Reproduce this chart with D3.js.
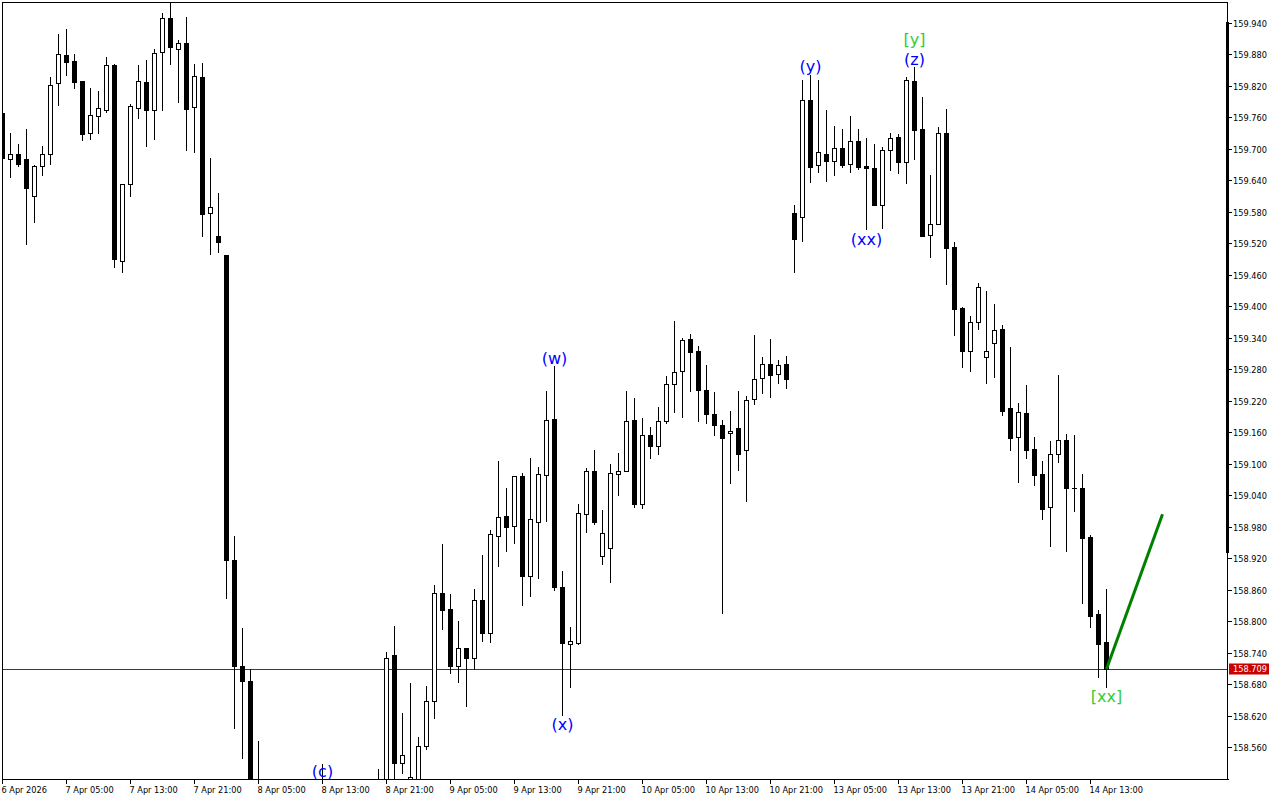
<!DOCTYPE html>
<html>
<head>
<meta charset="utf-8">
<script src="https://cdn.jsdelivr.net/npm/d3@7/dist/d3.min.js"></script>
<style>
  html, body { margin: 0; padding: 0; background: #ffffff; }
  svg { display: block; }
  text { font-family: "DejaVu Sans", sans-serif; }
</style>
</head>
<body>
<svg id="chart" width="1280" height="800"></svg>
<script>
// ---------------- DATA (hourly bars, USD/JPY-like) ----------------
const open = [
159.768,159.680,159.690,159.680,159.611,159.667,159.690,159.825,159.878,159.867,
159.829,159.730,159.763,159.773,159.859,159.486,159.632,159.777,159.827,159.773,
159.884,159.950,159.891,159.901,159.779,159.836,159.577,159.533,159.498,158.917,
158.715,158.687,158.420,158.390,158.360,158.380,158.420,158.400,158.440,158.410,
158.380,158.450,158.400,158.430,158.410,158.440,158.420,158.450,158.470,158.735,
158.530,158.498,158.490,158.562,158.648,158.853,158.823,158.714,158.750,158.731,
158.840,158.778,158.963,159.001,158.982,159.076,158.887,158.990,159.078,159.185,
158.866,158.757,158.758,159.004,159.086,158.925,158.940,159.081,159.086,159.183,
159.023,159.154,159.134,159.181,159.252,159.276,159.337,159.314,159.240,159.194,
159.173,159.158,159.168,159.126,159.223,159.263,159.291,159.271,159.290,159.577,
159.571,159.792,159.669,159.691,159.676,159.701,159.671,159.714,159.667,159.663,
159.592,159.697,159.722,159.674,159.830,159.738,159.535,159.556,159.731,159.512,
159.396,159.315,159.370,159.303,159.331,159.356,159.206,159.152,159.196,159.128,
159.080,159.017,159.118,159.145,159.054,159.053,158.960,158.813,158.760
];
const high = [
159.774,159.730,159.709,159.738,159.670,159.705,159.836,159.919,159.928,159.881,
159.829,159.815,159.810,159.874,159.861,159.632,159.785,159.860,159.870,159.890,
159.958,159.980,159.907,159.951,159.861,159.863,159.682,159.615,159.498,158.963,
158.787,158.709,158.572,158.450,158.420,158.440,158.470,158.460,158.480,158.470,
158.529,158.490,158.460,158.480,158.470,158.490,158.480,158.519,158.742,158.791,
158.625,158.683,158.580,158.677,158.869,158.947,158.852,158.801,158.750,158.862,
158.926,158.974,159.105,159.054,159.076,159.082,159.111,159.094,159.239,159.287,
158.896,158.789,159.024,159.092,159.126,159.012,159.100,159.120,159.239,159.225,
159.187,159.170,159.208,159.267,159.372,159.339,159.347,159.324,159.288,159.236,
159.183,159.200,159.239,159.230,159.345,159.303,159.337,159.297,159.305,159.592,
159.831,159.841,159.832,159.774,159.743,159.738,159.762,159.738,159.721,159.709,
159.703,159.730,159.728,159.836,159.855,159.798,159.651,159.741,159.776,159.523,
159.398,159.381,159.444,159.430,159.404,159.364,159.322,159.216,159.250,159.152,
159.105,159.143,159.270,159.156,159.154,159.080,158.964,158.821,158.861
];
const low = [
159.669,159.647,159.668,159.519,159.561,159.651,159.672,159.784,159.841,159.816,
159.717,159.719,159.731,159.770,159.474,159.465,159.611,159.759,159.706,159.719,
159.773,159.862,159.790,159.698,159.693,159.534,159.500,159.503,158.844,158.597,
158.539,158.400,158.360,158.330,158.300,158.340,158.370,158.350,158.390,158.360,
158.320,158.380,158.350,158.380,158.360,158.400,158.380,158.410,158.450,158.470,
158.512,158.470,158.470,158.556,158.615,158.786,158.701,158.685,158.639,158.710,
158.762,158.761,158.906,158.933,158.950,158.832,158.849,158.883,158.991,158.860,
158.622,158.674,158.757,158.970,158.986,158.910,158.874,159.041,159.086,159.018,
159.016,159.112,159.119,159.177,159.199,159.190,159.239,159.182,159.177,159.155,
158.815,159.064,159.089,159.030,159.213,159.235,159.228,159.253,159.245,159.466,
159.525,159.637,159.656,159.639,159.651,159.665,159.656,159.661,159.547,159.592,
159.550,159.660,159.654,159.635,159.681,159.533,159.494,159.556,159.442,159.346,
159.285,159.277,159.357,159.253,159.266,159.192,159.127,159.066,159.112,159.060,
158.995,158.944,159.103,158.933,159.011,158.835,158.790,158.694,158.674
];
const close = [
159.682,159.690,159.672,159.625,159.667,159.690,159.821,159.880,159.866,159.828,
159.729,159.764,159.777,159.859,159.490,159.632,159.781,159.829,159.773,159.882,
159.950,159.893,159.901,159.776,159.838,159.576,159.589,159.523,158.917,158.714,
158.686,158.420,158.390,158.360,158.380,158.420,158.400,158.440,158.410,158.380,
158.450,158.400,158.430,158.410,158.440,158.420,158.450,158.470,158.730,158.530,
158.545,158.504,158.562,158.648,158.853,158.822,158.714,158.750,158.730,158.840,
158.778,158.966,158.998,158.980,159.076,158.887,158.994,159.080,159.183,158.866,
158.758,158.762,159.006,159.086,158.990,158.968,159.082,159.086,159.181,159.024,
159.154,159.134,159.181,159.252,159.274,159.335,159.312,159.240,159.194,159.173,
159.150,159.162,159.119,159.221,159.262,159.291,159.270,159.288,159.262,159.529,
159.792,159.665,159.693,159.676,159.701,159.670,159.714,159.666,159.663,159.593,
159.697,159.720,159.675,159.832,159.736,159.533,159.556,159.731,159.511,159.395,
159.315,159.371,159.436,159.314,159.354,159.201,159.150,159.198,159.127,159.079,
159.014,159.118,159.145,159.054,159.053,158.959,158.811,158.757,158.709
];

// time-axis labels (bar index, text)
const xTickBars = [0, 8, 16, 24, 32, 40, 48, 56, 64, 72, 80, 88, 96, 104, 112, 120, 128, 136];
const xTickLabels = ["6 Apr 2026","7 Apr 05:00","7 Apr 13:00","7 Apr 21:00","8 Apr 05:00","8 Apr 13:00",
  "8 Apr 21:00","9 Apr 05:00","9 Apr 13:00","9 Apr 21:00","10 Apr 05:00","10 Apr 13:00",
  "10 Apr 21:00","13 Apr 05:00","13 Apr 13:00","13 Apr 21:00","14 Apr 05:00","14 Apr 13:00"];

// price-axis labels
const yTickValues = [159.940,159.880,159.820,159.760,159.700,159.640,159.580,159.520,159.460,159.400,
  159.340,159.280,159.220,159.160,159.100,159.040,158.980,158.920,158.860,158.800,158.740,158.680,
  158.620,158.560];

// wave labels
const waveTexts  = ["(w)", "(x)", "(y)", "(xx)", "(z)", "[y]", "[xx]", "(c)"];
const waveBars   = [69, 70, 101, 108, 114, 114, 138, 40];
const wavePrices = [159.3015, 158.604, 159.856, 159.528, 159.871, 159.909, 158.656, 158.513];
const waveKinds  = ["minor", "minor", "minor", "minor", "minor", "major", "major", "minor"];

// current price and projection line
const currentPrice = 158.709;
const projBars   = [138, 145];
const projPrices = [158.709, 159.004];

// range bar on price axis
const axisBarPrices = [159.940, 158.931];

// ---------------- DRAWING ----------------
const W = 1280, H = 800;
const plotLeft = 2, plotTop = 2, plotRight = 1227, plotBottom = 779;

const x = d3.scaleLinear().domain([0, 153]).range([2.5, 2.5 + 8 * 153]);
const y = d3.scaleLinear().domain([158.56, 159.94]).range([747.3, 22.8]);

const svg = d3.select("#chart");
svg.append("rect").attr("width", W).attr("height", H).attr("fill", "#ffffff");

const defs = svg.append("defs");
defs.append("clipPath").attr("id", "plotClip")
  .append("rect").attr("x", plotLeft).attr("y", plotTop)
  .attr("width", plotRight - plotLeft).attr("height", plotBottom - plotTop);

const bars = d3.range(open.length).map(i => ({
  i, o: open[i], h: high[i], l: low[i], c: close[i]
}));

const plot = svg.append("g").attr("clip-path", "url(#plotClip)");

// current price line
const cy = Math.round(y(currentPrice)) + 0.5;
plot.append("line")
  .attr("x1", plotLeft).attr("x2", plotRight)
  .attr("y1", cy).attr("y2", cy)
  .attr("stroke", "#c40000").attr("stroke-width", 1);

// wicks
plot.append("g").selectAll("line").data(bars).join("line")
  .attr("x1", d => x(d.i)).attr("x2", d => x(d.i))
  .attr("y1", d => Math.round(y(d.h)))
  .attr("y2", d => Math.round(y(d.l)) + 1)
  .attr("stroke", "#000").attr("stroke-width", 1)
  .attr("shape-rendering", "crispEdges");

// bodies
const bearish = bars.filter(d => d.c < d.o);
const bullish = bars.filter(d => d.c >= d.o);

plot.append("g").selectAll("rect").data(bearish).join("rect")
  .attr("x", d => x(d.i) - 2.5)
  .attr("width", 5)
  .attr("y", d => Math.round(y(d.o)))
  .attr("height", d => Math.max(1, Math.round(y(d.c)) - Math.round(y(d.o)) + 1))
  .attr("fill", "#000")
  .attr("shape-rendering", "crispEdges");

plot.append("g").selectAll("rect").data(bullish).join("rect")
  .attr("x", d => x(d.i) - 2)
  .attr("width", 4)
  .attr("y", d => Math.round(y(d.c)) + 0.5)
  .attr("height", d => Math.max(1, Math.round(y(d.o)) - Math.round(y(d.c))))
  .attr("fill", "#fff")
  .attr("stroke", "#000").attr("stroke-width", 1);

// projection line
plot.append("path")
  .datum(projBars.map((b, k) => [x(b), y(projPrices[k])]))
  .attr("d", d3.line())
  .attr("fill", "none")
  .attr("stroke", "#008000")
  .attr("stroke-width", 3);

// wave labels
plot.append("g").selectAll("text").data(waveTexts).join("text")
  .attr("x", (d, k) => x(waveBars[k]))
  .attr("y", (d, k) => y(wavePrices[k]))
  .attr("text-anchor", "middle")
  .attr("dominant-baseline", "central")
  .attr("font-size", 16)
  .attr("fill", (d, k) => waveKinds[k] === "major" ? "#32cd32" : "#0000ff")
  .text(d => d);

// frame
const frame = svg.append("g").attr("stroke", "#000").attr("stroke-width", 1).attr("shape-rendering", "crispEdges");
frame.append("line").attr("x1", plotLeft + 0.5).attr("x2", plotLeft + 0.5).attr("y1", plotTop).attr("y2", plotBottom + 1);
frame.append("line").attr("x1", plotLeft).attr("x2", plotRight + 1).attr("y1", plotTop + 0.5).attr("y2", plotTop + 0.5);
frame.append("line").attr("x1", plotLeft).attr("x2", plotRight + 2).attr("y1", plotBottom + 0.5).attr("y2", plotBottom + 0.5);
frame.append("line").attr("x1", plotRight + 0.5).attr("x2", plotRight + 0.5).attr("y1", plotTop).attr("y2", plotBottom + 1);

// thick range bar on price axis
svg.append("rect")
  .attr("x", plotRight - 1).attr("width", 3)
  .attr("y", Math.round(y(axisBarPrices[0])) - 1)
  .attr("height", Math.round(y(axisBarPrices[1])) - Math.round(y(axisBarPrices[0])) + 1)
  .attr("fill", "#000");

// price axis ticks & labels
const yAxisG = svg.append("g");
yAxisG.selectAll("line").data(yTickValues).join("line")
  .attr("x1", plotRight).attr("x2", plotRight + 5)
  .attr("y1", d => Math.round(y(d)) + 0.5).attr("y2", d => Math.round(y(d)) + 0.5)
  .attr("stroke", "#000").attr("shape-rendering", "crispEdges");
yAxisG.selectAll("text").data(yTickValues).join("text")
  .attr("x", plotRight + 6)
  .attr("y", d => Math.round(y(d)) + 0.5)
  .attr("dominant-baseline", "central")
  .attr("font-size", 8.2)
  .attr("fill", "#000")
  .text(d => d.toFixed(3));

// current price box
const boxG = svg.append("g");
boxG.append("rect")
  .attr("x", plotRight + 2).attr("y", cy - 6)
  .attr("width", 40).attr("height", 11)
  .attr("fill", "#c80000");
boxG.append("text")
  .attr("x", plotRight + 6).attr("y", cy - 0.5)
  .attr("dominant-baseline", "central")
  .attr("font-size", 8.2)
  .attr("fill", "#ffffff")
  .text(currentPrice.toFixed(3));

// time axis ticks & labels
const xAxisG = svg.append("g");
xAxisG.selectAll("line").data(xTickBars).join("line")
  .attr("x1", d => x(d)).attr("x2", d => x(d))
  .attr("y1", plotBottom).attr("y2", plotBottom + 5)
  .attr("stroke", "#000").attr("shape-rendering", "crispEdges");
xAxisG.selectAll("text").data(xTickLabels).join("text")
  .attr("x", (d, k) => x(xTickBars[k]) - 1)
  .attr("y", 793)
  .attr("font-size", 8.2)
  .attr("fill", "#000")
  .text(d => d);
</script>
</body>
</html>
